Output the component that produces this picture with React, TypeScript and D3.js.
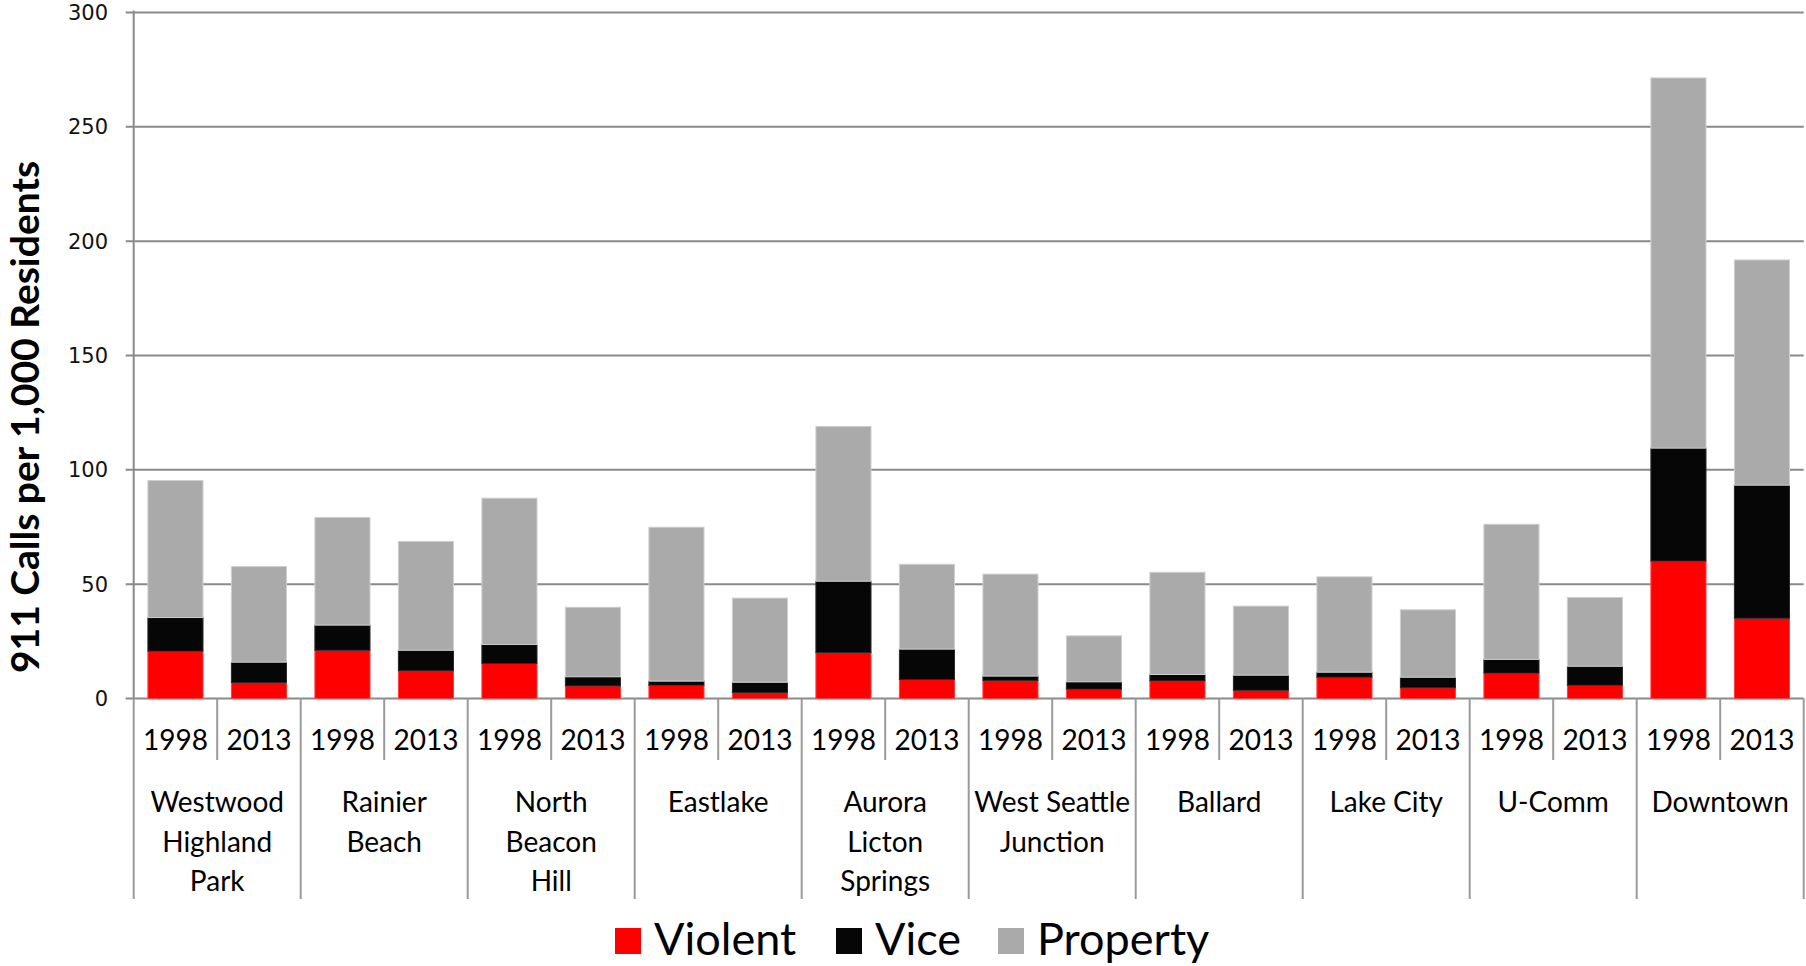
import React from "react";
import * as d3 from "d3";

const neighborhoods = [
  "Westwood|Highland|Park",
  "Rainier|Beach",
  "North|Beacon|Hill",
  "Eastlake",
  "Aurora|Licton|Springs",
  "West Seattle|Junction",
  "Ballard",
  "Lake City",
  "U-Comm",
  "Downtown",
];
const years = ["1998", "2013"];
const seriesNames = ["Violent", "Vice", "Property"];
const seriesColors = ["#FF0000", "#060606", "#AAAAAA"];

// values per bar (neighborhood x year order)
const violent = [20.7, 7.0, 21.1, 12.1, 15.3, 5.5, 5.8, 2.6, 20.1, 8.3, 7.9, 4.1, 7.7, 3.6, 9.3, 4.7, 11.1, 5.8, 60.1, 35.1];
const vice = [14.7, 8.9, 11.0, 9.0, 8.3, 4.0, 1.8, 4.5, 31.2, 13.3, 1.9, 3.2, 2.8, 6.6, 2.2, 4.6, 6.0, 8.3, 49.4, 58.2];
const property = [59.9, 41.8, 47.1, 47.6, 64.0, 30.4, 67.3, 36.8, 67.7, 37.1, 44.6, 20.1, 44.7, 30.2, 41.7, 29.5, 59.1, 30.1, 161.9, 98.5];
const yTicks = [0, 50, 100, 150, 200, 250, 300];
const yTitle = "911 Calls per 1,000 Residents";

export default function App() {
  const W = 1806, H = 966;
  const left = 133.7, right = 1803.7, y0 = 698.5, yTop = 12.5;
  const keys = neighborhoods.flatMap((n, i) => years.map((yr) => `${i}-${yr}`));
  const rows = keys.map((k, i) => ({ key: k, Violent: violent[i], Vice: vice[i], Property: property[i] }));
  const x = d3.scaleBand<string>().domain(keys).range([left, right]).paddingInner(0.34).paddingOuter(0.17);
  const y = d3.scaleLinear().domain([0, 300]).range([y0, yTop]);
  const stack = d3.stack<any>().keys(seriesNames)(rows);
  const step = x.step();
  const gridColor = "#8a8a8a";
  const sepColor = "#9a9a9a";
  const font = "Lato, 'Open Sans', sans-serif";

  return (
    <svg width={W} height={H} style={{ position: "absolute", left: 0, top: 0, display: "block", background: "#fff" }}>
      {/* gridlines */}
      {yTicks.map((t) => (
        <g key={t}>
          <line x1={left - 8} x2={right} y1={y(t)} y2={y(t)} stroke={gridColor} strokeWidth={2} />
          <text x={108} y={y(t)} dy="0.36em" textAnchor="end" fontFamily="'DejaVu Sans', sans-serif" fontSize={21} fill="#111">
            {t}
          </text>
        </g>
      ))}
      <line x1={left} x2={left} y1={yTop - 2} y2={y0} stroke={gridColor} strokeWidth={2} />
      {/* bars */}
      {stack.map((s, si) => (
        <g key={s.key} fill={seriesColors[si]}>
          {s.map((d, i) => (
            <rect
              key={i}
              x={x(keys[i])}
              width={x.bandwidth()}
              y={y(d[1])}
              height={y(d[0]) - y(d[1])}
              stroke={si === 1 ? "#2a2a2a" : si === 0 ? "#ff4040" : "#cfcfcf"}
              strokeWidth={1}
            />
          ))}
        </g>
      ))}
      {/* category separators */}
      {keys.map((k, i) => {
        const xs = (x(k) as number) - (step - x.bandwidth()) / 2;
        const isGroup = i % 2 === 0;
        return (
          <line key={k} x1={xs} x2={xs} y1={y0} y2={isGroup ? 899 : 760} stroke={sepColor} strokeWidth={2} />
        );
      })}
      <line x1={right} x2={right} y1={y0} y2={899} stroke={sepColor} strokeWidth={2} />
      {/* year labels */}
      {keys.map((k, i) => (
        <text key={k} x={(x(k) as number) + x.bandwidth() / 2} y={740} dy="0.36em" textAnchor="middle" fontFamily={font} fontSize={28} fill="#000">
          {years[i % 2]}
        </text>
      ))}
      {/* neighborhood labels */}
      {neighborhoods.map((n, gi) => {
        const cx = left + step * (2 * gi + 1);
        return n.split("|").map((line, li) => (
          <text key={gi + "-" + li} x={cx} y={802 + li * 39.5} dy="0.36em" textAnchor="middle" fontFamily={font} fontSize={28} fill="#000">
            {line}
          </text>
        ));
      })}
      {/* y title */}
      <text
        transform={`translate(39, 417) rotate(-90)`}
        textAnchor="middle"
        fontFamily={font}
        fontWeight="bold"
        fontSize={39}
        fill="#000"
      >
        {yTitle}
      </text>
      {/* legend */}
      {seriesNames.map((s, i) => {
        const lx = [615, 836, 998][i];
        return (
          <g key={s}>
            <rect x={lx} y={928} width={26} height={26} fill={seriesColors[i]} />
            <text x={lx + 39} y={955} fontFamily={font} fontSize={45} fill="#000">
              {s}
            </text>
          </g>
        );
      })}
    </svg>
  );
}
